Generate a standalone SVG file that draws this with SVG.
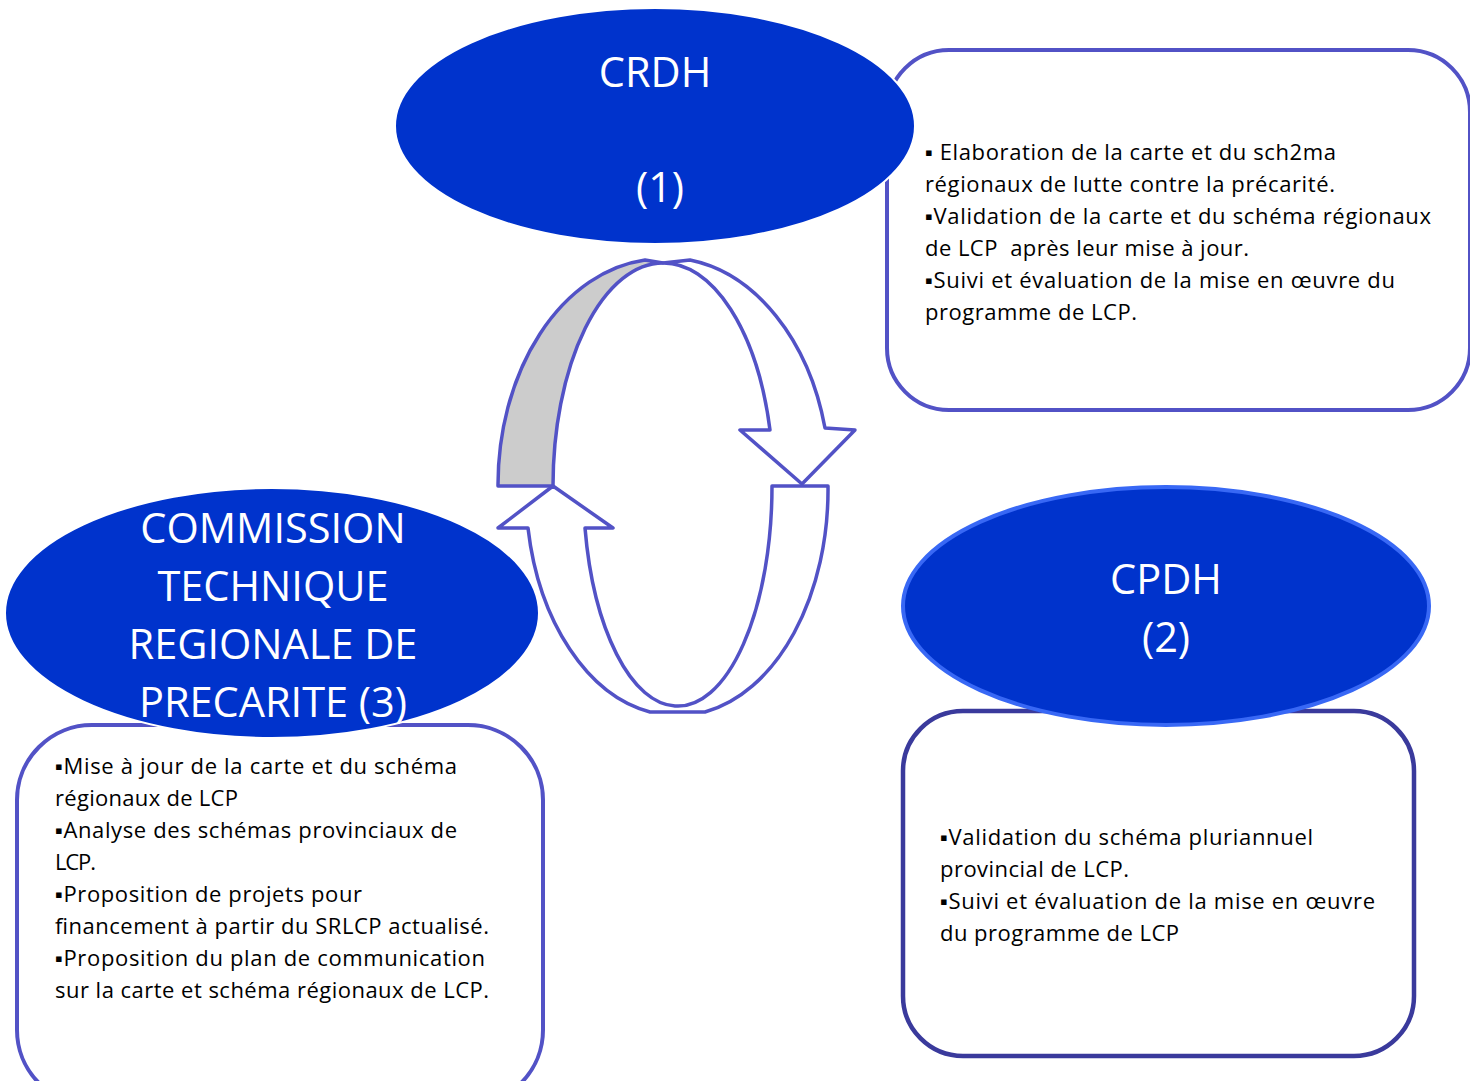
<svg xmlns="http://www.w3.org/2000/svg" width="1470" height="1081" viewBox="0 0 1470 1081">
<style>
.box{fill:#fff;stroke:#5252C6;stroke-width:4}
.box2{fill:#fff;stroke:#3A3A9C;stroke-width:4.5}
.ell{fill:#0033CC;stroke:#fff;stroke-width:2}
.ell2{fill:#0033CC;stroke:#3868F5;stroke-width:4}
.title{font-family:"Open Sans","Noto Sans",sans-serif;font-size:41.5px;fill:#fff;text-anchor:middle}
.body{font-family:"Open Sans","Noto Sans",sans-serif;font-size:22px;fill:#000}
.arr{stroke:#5252C6;stroke-width:3.5;stroke-linejoin:round}
</style>
<rect width="1470" height="1081" fill="#fff"/>

<g id="box1">
<rect class="box" x="887" y="50" width="583" height="360" rx="62"/>
<text class="body" x="925" y="160" textLength="411">▪ Elaboration de la carte et du sch2ma</text>
<text class="body" x="925" y="192" textLength="410">régionaux de lutte contre la précarité.</text>
<text class="body" x="925" y="224" textLength="506">▪Validation de la carte et du schéma régionaux</text>
<text class="body" x="925" y="256" textLength="324" xml:space="preserve">de LCP  après leur mise à jour.</text>
<text class="body" x="925" y="288" textLength="470">▪Suivi et évaluation de la mise en œuvre du</text>
<text class="body" x="925" y="320" textLength="212">programme de LCP.</text>
</g>

<g id="box3">
<rect class="box" x="17" y="725" width="526" height="380" rx="75"/>
<text class="body" x="55" y="774" textLength="402">▪Mise à jour de la carte et du schéma</text>
<text class="body" x="55" y="806" textLength="183">régionaux de LCP</text>
<text class="body" x="55" y="838" textLength="402">▪Analyse des schémas provinciaux de</text>
<text class="body" x="55" y="870" textLength="41">LCP.</text>
<text class="body" x="55" y="902" textLength="307">▪Proposition de projets pour</text>
<text class="body" x="55" y="934" textLength="434">financement à partir du SRLCP actualisé.</text>
<text class="body" x="55" y="966" textLength="430">▪Proposition du plan de communication</text>
<text class="body" x="55" y="998" textLength="434">sur la carte et schéma régionaux de LCP.</text>
</g>

<g id="box2">
<rect class="box2" x="903" y="711" width="511" height="345" rx="60"/>
<text class="body" x="940" y="845" textLength="373">▪Validation du schéma pluriannuel</text>
<text class="body" x="940" y="877" textLength="189">provincial de LCP.</text>
<text class="body" x="940" y="909" textLength="435">▪Suivi et évaluation de la mise en œuvre</text>
<text class="body" x="940" y="941" textLength="239">du programme de LCP</text>
</g>

<g id="connectors">
<path class="arr" fill="#CCCCCC" d="M498,486 L553,486 A110,223 0 0 1 663,263 L645,260 A164,226 0 0 0 498,486 Z"/>
<path class="arr" fill="#fff" d="M663,263 L690,260 A164,226 0 0 1 825,428 L855,430 L802,484 L740,430 L770,430 A110,223 0 0 0 663,263 Z"/>
<path class="arr" fill="#fff" d="M528,528 L498,528 L553,486 L613,528 L585,528 A94,220 0 0 0 675,706 A94,220 0 0 0 772,486 L828,486 A150,226 0 0 1 705,712 L650,712 A150,226 0 0 1 528,528 Z"/>
</g>

<g id="crdh">
<ellipse class="ell" cx="655" cy="126" rx="260" ry="118"/>
<text class="title" x="655" y="87">CRDH</text>
<text class="title" x="660" y="202">(1)</text>
</g>

<g id="cpdh">
<ellipse class="ell2" cx="1166" cy="606" rx="263" ry="119"/>
<text class="title" x="1166" y="594">CPDH</text>
<text class="title" x="1166" y="652">(2)</text>
</g>

<g id="ctrp">
<ellipse class="ell" cx="272" cy="613" rx="267" ry="125"/>
<text class="title" x="273" y="543">COMMISSION</text>
<text class="title" x="273" y="601">TECHNIQUE</text>
<text class="title" x="273" y="659">REGIONALE DE</text>
<text class="title" x="273" y="717">PRECARITE (3)</text>
</g>
</svg>
